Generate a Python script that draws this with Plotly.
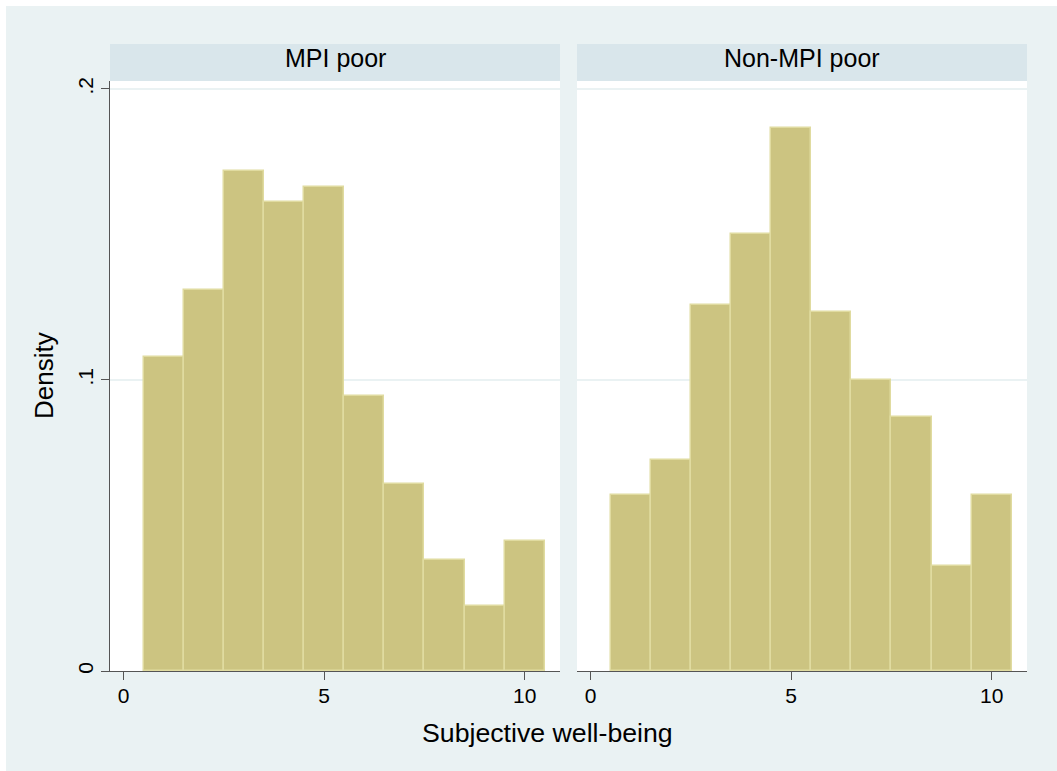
import plotly.graph_objects as go

# ---- data ----
sw_bins = [1, 2, 3, 4, 5, 6, 7, 8, 9, 10]
mpi_poor_density = [0.1078, 0.1308, 0.1718, 0.1612, 0.1664, 0.0944, 0.0641, 0.0380, 0.0225, 0.0447]
non_mpi_poor_density = [0.0605, 0.0724, 0.1256, 0.1503, 0.1865, 0.1233, 0.1000, 0.0872, 0.0360, 0.0606]
panel_titles = ["MPI poor", "Non-MPI poor"]
x_tick_vals = [0, 5, 10]
y_tick_vals = [0, 0.1, 0.2]
y_tick_text = ["0", ".1", ".2"]
x_title = "Subjective well-being"
y_title = "Density"

# ---- styling ----
FONT = "Liberation Sans, Arial, Helvetica, sans-serif"
OUTER_BG = "rgb(234,242,243)"
STRIP_BG = "rgb(217,230,235)"
GRID = "rgb(234,242,243)"
AXIS = "rgb(85,85,85)"
BAR_FILL = "rgb(204,196,129)"
BAR_LINE = "rgb(224,219,160)"

W, H = 1057, 771
L, R, T, B = 110, 1027, 81, 671


def px(x):
    return (x - L) / (R - L)


def py(y):
    return (B - y) / (B - T)


fig = go.Figure()
for i, (vals, xa, ya) in enumerate([(mpi_poor_density, "x", "y"), (non_mpi_poor_density, "x2", "y2")]):
    fig.add_trace(go.Bar(
        x=sw_bins, y=vals, width=1, xaxis=xa, yaxis=ya,
        marker=dict(color=BAR_FILL, line=dict(color=BAR_LINE, width=1.5)),
        showlegend=False, hoverinfo="x+y",
    ))

xcommon = dict(
    range=[-0.34, 10.88], tickvals=x_tick_vals, ticks="outside", ticklen=8, tickwidth=1.2,
    tickcolor=AXIS, showline=True, linecolor=AXIS, linewidth=1.2, showgrid=False,
    zeroline=False, tickfont=dict(family=FONT, size=21, color="black"), fixedrange=True,
    ticklabelstandoff=-2,
)
fig.update_layout(
    width=W, height=H, autosize=False,
    margin=dict(l=L, r=W - R, t=T, b=H - B, pad=0),
    paper_bgcolor=OUTER_BG, plot_bgcolor="white",
    bargap=0, showlegend=False,
    xaxis=dict(domain=[0, px(560)], anchor="y", **xcommon),
    xaxis2=dict(domain=[px(577), 1], anchor="y2", **xcommon),
    yaxis=dict(
        domain=[0, 1], anchor="x", range=[0, 0.2027], tickvals=y_tick_vals, ticktext=y_tick_text,
        tickangle=-90, ticks="outside", ticklen=8, tickwidth=1.2, tickcolor=AXIS,
        showline=True, linecolor=AXIS, linewidth=1.2, showgrid=True, gridcolor=GRID, gridwidth=1.5,
        zeroline=False, tickfont=dict(family=FONT, size=21, color="black"), fixedrange=True,
    ),
    yaxis2=dict(
        domain=[0, 1], anchor="x2", matches="y", range=[0, 0.2027], tickvals=y_tick_vals,
        showticklabels=False, ticks="", showline=False, showgrid=True, gridcolor=GRID, gridwidth=1.5,
        zeroline=False, fixedrange=True,
    ),
)

shapes = []
# thin white border at top/left of the outer graph region
shapes.append(dict(type="rect", xref="paper", yref="paper", x0=px(0), x1=px(6), y0=py(H), y1=py(0),
                   fillcolor="white", line=dict(width=0), layer="above"))
shapes.append(dict(type="rect", xref="paper", yref="paper", x0=px(0), x1=px(W), y0=py(6), y1=py(0),
                   fillcolor="white", line=dict(width=0), layer="above"))
# strips
strip_spans = [(110, 560), (577, 1027)]
for (a, b) in strip_spans:
    shapes.append(dict(type="rect", xref="paper", yref="paper", x0=px(a), x1=px(b), y0=py(81), y1=py(44),
                       fillcolor=STRIP_BG, line=dict(width=0), layer="above"))
fig.update_layout(shapes=shapes)

ann = []
for (a, b), title in zip(strip_spans, panel_titles):
    ann.append(dict(text=title, x=px((a + b) / 2), y=py(58), xref="paper", yref="paper",
                    xanchor="center", yanchor="middle", showarrow=False,
                    font=dict(family=FONT, size=25, color="black")))
ann.append(dict(text=x_title, x=px(547.5), y=py(733), xref="paper", yref="paper",
                xanchor="center", yanchor="middle", showarrow=False,
                font=dict(family=FONT, size=26.7, color="black")))
ann.append(dict(text=y_title, x=px(44), y=py(376), xref="paper", yref="paper", textangle=-90,
                xanchor="center", yanchor="middle", showarrow=False,
                font=dict(family=FONT, size=26, color="black")))
fig.update_layout(annotations=ann)

fig.write_html(
    "out.html",
    config={"displayModeBar": False},
    post_script="document.body.style.margin='0';document.body.style.overflow='hidden';",
)
